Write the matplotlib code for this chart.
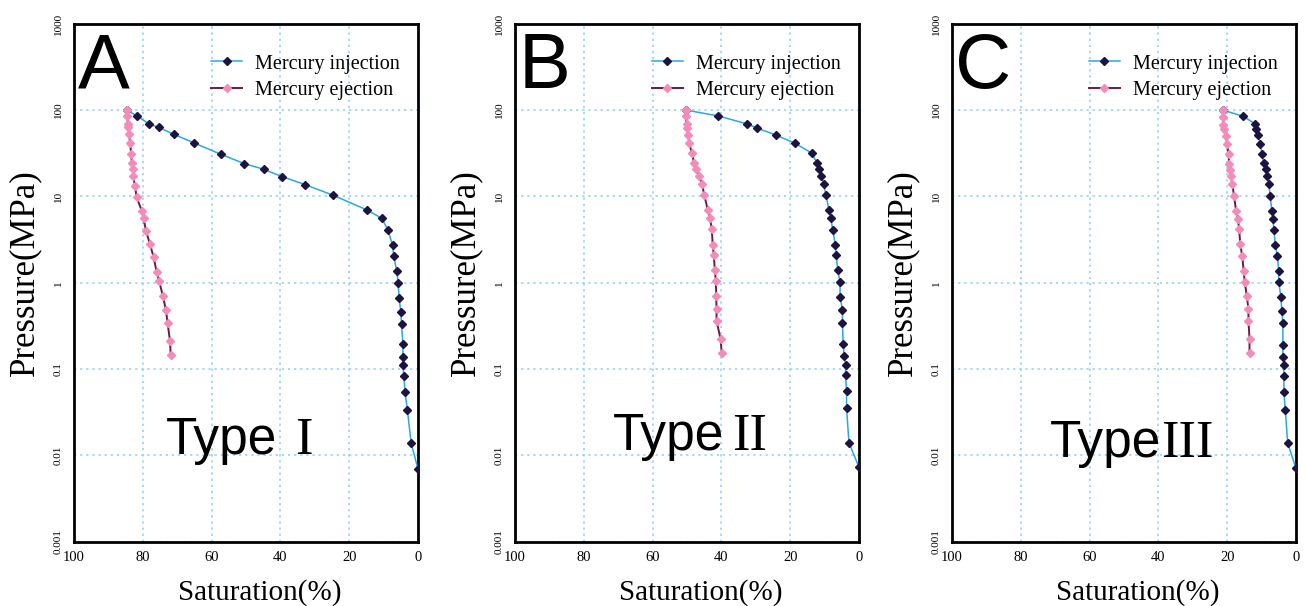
import matplotlib

matplotlib.use("Agg")
import matplotlib.pyplot as plt

# ── data ─────────────────────────────────────────────────────────────────────
a_inj_sat = [84.7, 81.8, 78.1, 75.4, 70.9, 65.2, 57.4, 50.6, 44.9, 39.5, 32.9,
             24.7, 14.8, 10.5, 8.8, 7.4, 7.1, 6.2, 5.8, 5.5, 5.0, 4.8, 4.4,
             4.4, 4.4, 4.1, 3.8, 3.1, 2.0, 0.0]
a_inj_p = [100, 85.9, 68.7, 62.8, 52.1, 41.7, 30.8, 24.0, 20.6, 16.9, 13.7,
           10.3, 6.94, 5.55, 4.09, 2.74, 2.06, 1.38, 1.0, 0.66, 0.46, 0.33,
           0.194, 0.138, 0.111, 0.0836, 0.054, 0.0337, 0.0138, 0.0069]
a_ej_sat = [84.7, 84.5, 84.4, 84.2, 84.0, 83.7, 83.4, 83.2, 82.9, 82.8, 82.3,
            81.8, 80.3, 79.8, 79.1, 77.9, 76.9, 76.0, 75.3, 74.2, 73.3, 72.8,
            72.1, 71.9]
a_ej_p = [100, 86, 68.7, 63, 52.6, 42, 30.8, 24.6, 20.6, 17.2, 13.2, 9.7, 6.8,
          5.6, 4.0, 2.77, 2.0, 1.34, 1.05, 0.71, 0.485, 0.34, 0.21, 0.146]

b_inj_sat = [50.4, 40.9, 32.5, 29.5, 24.1, 18.7, 13.6, 12.3, 11.6, 10.9, 10.3,
             9.6, 8.7, 8.2, 7.6, 6.9, 6.6, 6.2, 5.5, 5.5, 4.8, 4.8, 4.6, 4.3,
             3.9, 3.9, 3.6, 3.6, 2.9, 0.0]
b_inj_p = [100, 85.3, 69.0, 61.5, 51.2, 41.4, 31.5, 24.6, 21.0, 17.4, 14.0,
           10.4, 6.9, 5.6, 4.06, 2.76, 2.10, 1.41, 1.02, 0.69, 0.48, 0.34,
           0.195, 0.140, 0.112, 0.085, 0.055, 0.035, 0.014, 0.0073]
b_ej_sat = [50.4, 50.4, 50.1, 49.9, 49.7, 49.3, 48.6, 47.9, 47.3, 46.6, 45.6,
            45.0, 43.9, 43.3, 42.8, 42.5, 42.2, 41.9, 41.6, 41.5, 41.4, 41.4,
            40.2, 39.9]
b_ej_p = [100, 86, 69, 61.5, 51.2, 41.4, 31.5, 24.4, 21.0, 17.4, 14.0, 10.4,
          6.9, 5.6, 4.22, 2.73, 2.10, 1.41, 1.05, 0.71, 0.49, 0.36, 0.221,
          0.153]

c_inj_sat = [21.3, 15.4, 11.8, 11.6, 10.9, 10.5, 9.8, 9.4, 8.8, 8.4, 7.9, 7.5,
             7.0, 6.7, 6.4, 6.0, 5.4, 5.0, 5.0, 4.4, 4.1, 3.8, 3.8, 3.8, 3.5,
             3.5, 3.5, 3.1, 2.4, 0.0]
c_inj_p = [100, 84.6, 69.0, 61.0, 50.7, 40.6, 30.9, 24.2, 20.8, 17.3, 13.9,
           10.2, 6.8, 5.5, 4.06, 2.76, 2.04, 1.37, 1.03, 0.69, 0.47, 0.34,
           0.192, 0.137, 0.111, 0.084, 0.054, 0.034, 0.0139, 0.0071]
c_ej_sat = [21.3, 21.1, 21.1, 20.8, 20.4, 20.0, 19.6, 19.4, 19.1, 18.9, 18.5,
            18.0, 17.4, 16.9, 16.5, 16.2, 15.6, 15.2, 14.9, 14.3, 13.8, 13.8,
            13.5, 13.5]
c_ej_p = [100, 82, 67.8, 60, 49.8, 40.6, 30.7, 23.5, 20.4, 17.3, 13.9, 10.1,
          6.8, 5.5, 4.2, 2.79, 2.02, 1.37, 1.03, 0.71, 0.49, 0.36, 0.225, 0.154]

letters = ["A", "B", "C"]
types = ["I", "II", "III"]
x_ticks = [100, 80, 60, 40, 20, 0]
y_ticks = [0.001, 0.01, 0.1, 1, 10, 100, 1000]
y_tick_labels = ["0.001", "0.01", "0.1", "1", "10", "100", "1000"]

panels = [
    (a_inj_sat, a_inj_p, a_ej_sat, a_ej_p),
    (b_inj_sat, b_inj_p, b_ej_sat, b_ej_p),
    (c_inj_sat, c_inj_p, c_ej_sat, c_ej_p),
]

SERIF = "Liberation Serif"
SANS = "Liberation Sans"
INJ_LINE = "#2aa8e2"
INJ_MARK = "#1d1340"
EJ_LINE = "#6a1c44"
EJ_MARK = "#f38cb8"
GRID = "#8fd0f2"

fig = plt.figure(figsize=(13.06, 6.06), dpi=100)
lefts = [0.0567, 0.3943, 0.7289]
type_pos = [(0.267, 0.17), (0.285, 0.177), (0.285, 0.163)]
type_gap = [13, 6, 0]  # points between "Type" and the numeral

for i, (inj_s, inj_p, ej_s, ej_p) in enumerate(panels):
    ax = fig.add_axes([lefts[i], 0.106, 0.2634, 0.855])
    ax.plot(inj_s, inj_p, color=INJ_LINE, lw=1.1, marker="D", ms=3.9,
            mfc=INJ_MARK, mec=INJ_MARK, label="Mercury injection", zorder=3)
    ax.plot(ej_s, ej_p, color=EJ_LINE, lw=1.4, marker="D", ms=3.7,
            mfc=EJ_MARK, mec=EJ_MARK, label="Mercury ejection", zorder=3)
    ax.set_yscale("log")
    ax.set_xlim(100, 0)
    ax.set_ylim(0.001, 1000)
    ax.set_xticks(x_ticks)
    ax.set_xticklabels([str(v) for v in x_ticks], family=SERIF, fontsize=10.5)
    ax.set_yticks(y_ticks)
    ax.set_yticklabels(y_tick_labels, family=SERIF, fontsize=8, rotation=90,
                       va="center")
    ax.minorticks_off()
    ax.tick_params(length=0)
    ax.tick_params(axis="x", pad=7)
    ax.tick_params(axis="y", pad=8)
    ax.grid(True, color=GRID, ls=(0, (1.5, 2.5)), lw=1.1)
    for sp in ax.spines.values():
        sp.set_linewidth(2)
    ax.set_ylabel("Pressure(MPa)", family=SERIF, fontsize=25)
    ax.yaxis.set_label_coords(-0.095, 0.52)
    ax.set_xlabel("Saturation(%)", family=SERIF, fontsize=21)
    ax.xaxis.set_label_coords(0.54, -0.072)

    ax.text(0.01, 0.985, letters[i], transform=ax.transAxes, family=SANS,
            fontsize=56, ha="left", va="top")
    t = ax.text(type_pos[i][0], type_pos[i][1], "Type",
                transform=ax.transAxes, family=SANS, fontsize=37,
                ha="left", va="baseline")
    ax.annotate(types[i], xy=(1, 0), xycoords=t, xytext=(type_gap[i], 0),
                textcoords="offset points", family=SERIF, fontsize=38,
                ha="left", va="bottom")

    ax.legend(loc="upper left", bbox_to_anchor=(0.37, 0.96),
              frameon=False, borderpad=0, handlelength=1.5,
              handletextpad=0.65, labelspacing=0.35,
              prop={"family": SERIF, "size": 14.5})

fig.savefig("out.png", dpi=100)
